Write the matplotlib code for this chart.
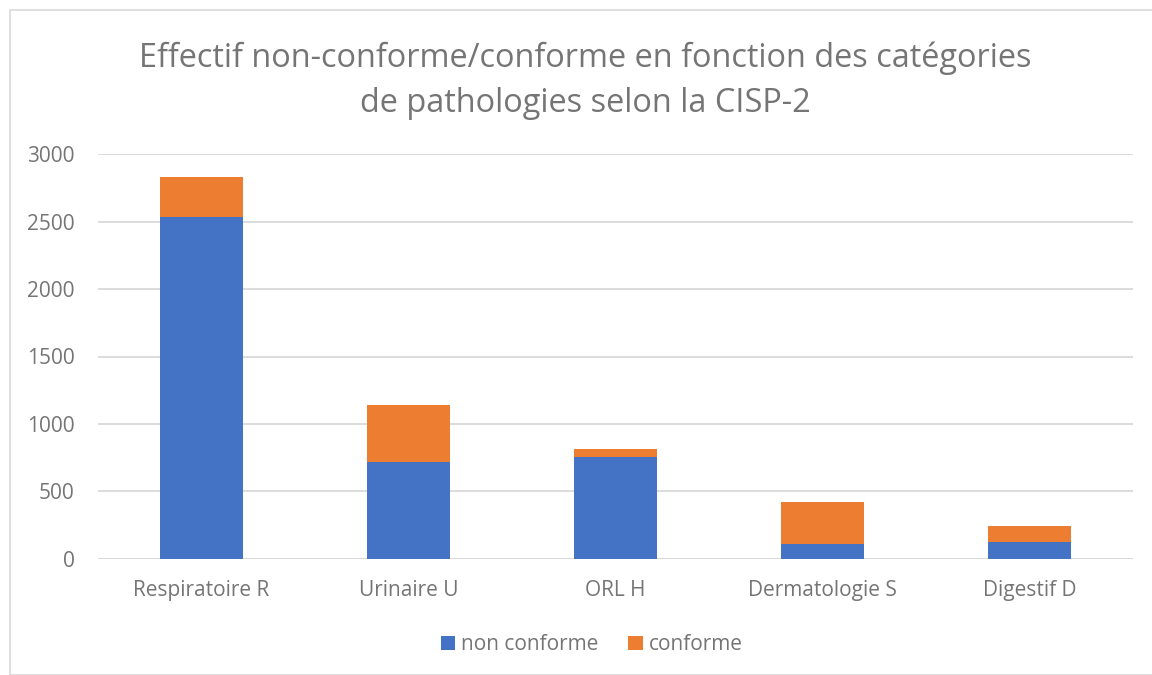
import matplotlib.pyplot as plt
from matplotlib.patches import Rectangle
import numpy as np

# Categories and values
categories = ['Respiratoire R', 'Urinaire U', 'ORL H', 'Dermatologie S', 'Digestif D']
non_conforme = [2533, 715, 752, 111, 126]
conforme = [296, 423, 60, 310, 114]

blue = '#4472C4'
orange = '#ED7D31'
grey_text = '#757575'
grid_color = '#D9D9D9'

plt.rcParams['font.family'] = ['Open Sans', 'DejaVu Sans']

fig = plt.figure(figsize=(11.52, 6.75), dpi=100)
ax = fig.add_axes([98 / 1152, 1 - 558.7 / 675, (1133 - 98) / 1152, (558.7 - 154.3) / 675])

x = np.arange(len(categories))
ax.bar(x, non_conforme, width=0.4, color=blue, label='non conforme', zorder=3)
ax.bar(x, conforme, width=0.4, bottom=non_conforme, color=orange, label='conforme', zorder=3)

ax.set_xlim(-0.5, len(categories) - 0.5)
ax.set_ylim(0, 3000)
ax.set_yticks(range(0, 3001, 500))
ax.set_xticks(x)
ax.set_xticklabels(categories)

# Excel-like look: horizontal gridlines only, no spines
ax.grid(axis='y', color=grid_color, linewidth=1.3, zorder=0)
for side in ['top', 'right', 'left', 'bottom']:
    ax.spines[side].set_visible(False)
ax.axhline(0, color=grid_color, linewidth=1.3, zorder=1)
ax.tick_params(axis='both', length=0, labelsize=15, colors=grey_text)
ax.tick_params(axis='y', pad=17)
ax.tick_params(axis='x', pad=15)

fig.text(0.508, 0.88,
         'Effectif non-conforme/conforme en fonction des catégories\nde pathologies selon la CISP-2',
         ha='center', va='center', fontsize=23.4, color=grey_text, linespacing=1.5)

ax.legend(loc='center', bbox_to_anchor=(0.477, -0.213), ncol=2, frameon=False,
          fontsize=15, labelcolor=grey_text, handlelength=0.7, handleheight=0.7,
          handletextpad=0.3, columnspacing=1.4)

# Light grey chart frame
fig.patches.append(Rectangle((9.5 / 1152, 0), 1.2, 1 - 10 / 675, transform=fig.transFigure,
                             fill=False, edgecolor='#D9D9D9', linewidth=1.2))

fig.savefig('out.png', dpi=100)
